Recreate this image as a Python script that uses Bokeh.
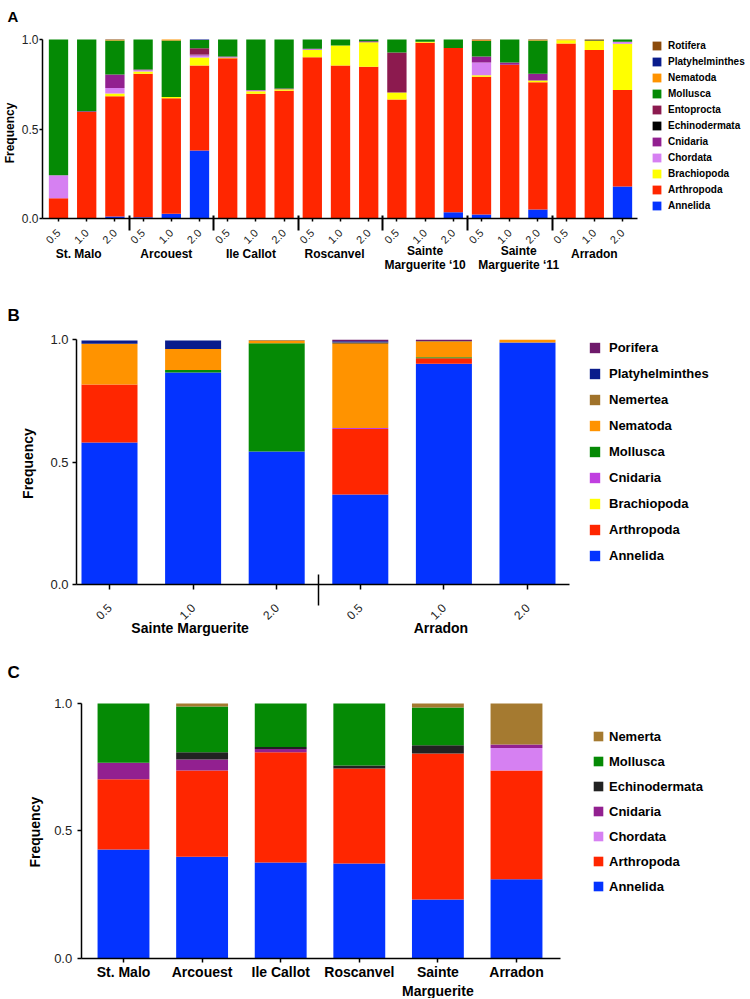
import math
from bokeh.plotting import figure
from bokeh.models import (ColumnDataSource, FixedTicker, Legend, LegendItem, Label,
                          NumeralTickFormatter, Range1d, LinearAxis)
from bokeh.layouts import column
from bokeh.embed import file_html
from bokeh.resources import INLINE

FONT = "Liberation Sans"

# ---------------- Panel A data ----------------
a_sites = ["St. Malo", "Arcouest", "Ile Callot", "Roscanvel",
           "Sainte\nMarguerite \u201810", "Sainte\nMarguerite \u201811", "Arradon"]
a_depths = ["0.5", "1.0", "2.0"]
a_phyla = ["Annelida", "Arthropoda", "Brachiopoda", "Chordata", "Cnidaria", "Echinodermata",
           "Entoprocta", "Mollusca", "Nematoda", "Platyhelminthes", "Rotifera"]
a_colors = ["#0433FF", "#FF2600", "#FFFF00", "#D680F2", "#922090", "#000000",
            "#8C1A4F", "#058A05", "#FF9300", "#0A1C8C", "#8B4A0B"]
a_annelida = [0, 0, 0.013, 0.009, 0.028, 0.381, 0, 0, 0, 0, 0, 0, 0, 0, 0.037, 0.024, 0, 0.052, 0, 0.004, 0.180]
a_arthropoda = [0.115, 0.595, 0.671, 0.800, 0.645, 0.474, 0.895, 0.697, 0.714, 0.901, 0.855, 0.848,
                0.665, 0.982, 0.916, 0.768, 0.859, 0.710, 0.978, 0.938, 0.539]
a_brachiopoda = [0, 0, 0.015, 0.013, 0.006, 0.045, 0.003, 0.015, 0.009, 0.041, 0.112, 0.137,
                 0.040, 0.005, 0, 0.008, 0, 0.009, 0.018, 0.052, 0.257]
a_chordata = [0.128, 0, 0.031, 0.007, 0, 0.011, 0.003, 0.003, 0, 0.003, 0, 0,
              0, 0, 0, 0.072, 0, 0, 0, 0, 0.011]
a_cnidaria = [0, 0.005, 0.075, 0.004, 0, 0.005, 0.004, 0.003, 0.004, 0.003, 0, 0.005,
              0, 0, 0, 0.033, 0.013, 0.038, 0, 0, 0]
a_echinodermata = [0, 0, 0, 0, 0, 0, 0, 0, 0, 0, 0, 0, 0, 0, 0, 0, 0, 0, 0, 0.003, 0]
a_entoprocta = [0, 0, 0, 0, 0, 0.035, 0, 0, 0, 0, 0, 0, 0.223, 0, 0, 0, 0, 0, 0, 0, 0]
a_mollusca = [0.757, 0.400, 0.189, 0.167, 0.316, 0.046, 0.095, 0.282, 0.273, 0.052, 0.033, 0.010,
              0.072, 0.013, 0.047, 0.087, 0.128, 0.185, 0, 0, 0.013]
a_nematoda = [0, 0, 0.003, 0, 0.005, 0, 0, 0, 0, 0, 0, 0, 0, 0, 0, 0.004, 0, 0.003, 0.004, 0, 0]
a_platyhelminthes = [0, 0, 0, 0, 0, 0.003, 0, 0, 0, 0, 0, 0, 0, 0, 0, 0, 0, 0, 0, 0, 0]
a_rotifera = [0, 0, 0.003, 0, 0, 0, 0, 0, 0, 0, 0, 0, 0, 0, 0, 0.004, 0, 0.003, 0, 0.003, 0]

# ---------------- Panel B data ----------------
b_sites = ["Sainte Marguerite", "Arradon"]
b_depths = ["0.5", "1.0", "2.0"]
b_phyla = ["Annelida", "Arthropoda", "Brachiopoda", "Cnidaria", "Mollusca", "Nematoda",
           "Nemertea", "Platyhelminthes", "Porifera"]
b_colors = ["#0433FF", "#FF2600", "#FFFF00", "#C03FE0", "#058A05", "#FF9300",
            "#A0722A", "#0A1C8C", "#6E1A6B"]
b_annelida = [0.580, 0.866, 0.544, 0.368, 0.902, 0.989]
b_arthropoda = [0.237, 0, 0, 0.267, 0.023, 0]
b_brachiopoda = [0, 0, 0, 0, 0, 0]
b_cnidaria = [0, 0, 0, 0.005, 0, 0]
b_mollusca = [0, 0.011, 0.442, 0, 0.004, 0]
b_nematoda = [0.167, 0.085, 0.009, 0.343, 0.063, 0.011]
b_nemertea = [0, 0, 0.003, 0.006, 0.003, 0]
b_platyhelminthes = [0.013, 0.035, 0, 0.005, 0, 0]
b_porifera = [0, 0, 0, 0.006, 0.005, 0]

# ---------------- Panel C data ----------------
c_sites = ["St. Malo", "Arcouest", "Ile Callot", "Roscanvel", "Sainte\nMarguerite", "Arradon"]
c_phyla = ["Annelida", "Arthropoda", "Chordata", "Cnidaria", "Echinodermata", "Mollusca", "Nemerta"]
c_colors = ["#0433FF", "#FF2600", "#D680F2", "#922090", "#222222", "#058A05", "#A57A30"]
c_annelida = [0.427, 0.398, 0.376, 0.372, 0.230, 0.310]
c_arthropoda = [0.276, 0.339, 0.433, 0.373, 0.574, 0.427]
c_chordata = [0, 0, 0, 0, 0, 0.088]
c_cnidaria = [0.064, 0.043, 0.012, 0, 0, 0.014]
c_echinodermata = [0, 0.029, 0.008, 0.012, 0.032, 0]
c_mollusca = [0.233, 0.179, 0.171, 0.243, 0.148, 0]
c_nemerta = [0, 0.012, 0, 0, 0.016, 0.161]

W = 748

# horizontal nudges (px) of the panel-A site captions, as placed in the original figure
A_CAPTION_NUDGE = [-8, -5, -5, -6, 0, 9, 0]


class Panel:
    """A figure whose frame fills the whole canvas; px helpers map canvas pixels to data."""

    def __init__(self, height, x0px, ux, y0px, uy):
        self.h, self.x0px, self.ux, self.y0px, self.uy = height, x0px, ux, y0px, uy
        xr = (-x0px / ux, (W - x0px) / ux)
        yr = (-(height - y0px) / uy, y0px / uy)
        self.p = figure(width=W, height=height, x_range=Range1d(*xr), y_range=Range1d(*yr),
                        output_backend="svg", toolbar_location=None,
                        x_axis_location=None, y_axis_location=None,
                        min_border=0, min_border_left=0, min_border_right=0,
                        min_border_top=0, min_border_bottom=0)
        p = self.p
        p.xgrid.visible = False
        p.ygrid.visible = False
        p.outline_line_color = None
        p.background_fill_color = "white"

    def dx(self, px):
        return (px - self.x0px) / self.ux

    def dy(self, py):
        return (self.y0px - py) / self.uy

    def label(self, px, py, text, size, bold=True, align="center", baseline="middle", angle=0.0):
        self.p.add_layout(Label(x=self.dx(px), y=self.dy(py), text=text, angle=angle,
                                text_align=align, text_baseline=baseline, text_font=FONT,
                                text_font_style="bold" if bold else "normal",
                                text_font_size=size, text_color="black"))


def style_axis(ax):
    ax.axis_line_color = "black"
    ax.axis_line_width = 1.5
    ax.major_tick_line_color = "black"
    ax.major_tick_line_width = 1.5
    ax.major_tick_in = 0
    ax.minor_tick_line_color = None
    ax.major_label_text_font = FONT
    ax.major_label_text_color = "#222222"


def add_y_axis(pn, x_px, size, tick_out, standoff):
    ax = LinearAxis(fixed_location=pn.dx(x_px), bounds=(0, 1.0),
                    ticker=FixedTicker(ticks=[0, 0.5, 1.0]),
                    formatter=NumeralTickFormatter(format="0.0"))
    style_axis(ax)
    ax.major_label_text_font_size = size
    ax.major_tick_out = tick_out
    ax.major_label_standoff = standoff
    pn.p.add_layout(ax, "left")


def add_legend(pn, renderers, names, left_px, top_px, gsize, lheight, spacing, fsize, standoff):
    n = len(names)
    height = n * lheight + (n - 1) * spacing
    items = [LegendItem(label=nm, renderers=[r]) for nm, r in zip(names, renderers)][::-1]
    leg = Legend(items=items, location=(left_px, pn.h - top_px - height), orientation="vertical",
                 glyph_width=gsize, glyph_height=gsize, label_height=lheight,
                 label_width=10, spacing=spacing, padding=0, margin=0,
                 border_line_color=None, background_fill_alpha=0,
                 label_text_font=FONT, label_text_font_style="bold",
                 label_text_font_size=fsize, label_standoff=standoff,
                 label_text_color="black")
    pn.p.add_layout(leg)


# ================= Panel A =================
a_vals = [a_annelida, a_arthropoda, a_brachiopoda, a_chordata, a_cnidaria, a_echinodermata,
          a_entoprocta, a_mollusca, a_nematoda, a_platyhelminthes, a_rotifera]
nA = len(a_annelida)
nd = len(a_depths)
A = Panel(272, 58, 28.2, 218.3, 179.3)
srcA = ColumnDataSource(dict(x=list(range(nA)), **{k: v for k, v in zip(a_phyla, a_vals)}))
rA = A.p.vbar_stack(a_phyla, x="x", width=0.685, source=srcA, fill_color=a_colors, line_color=None)
axA = LinearAxis(fixed_location=0, bounds=(A.dx(42), A.dx(636.7)),
                 ticker=FixedTicker(ticks=list(range(nA)),
                                    minor_ticks=[nd * k - 0.5 for k in range(1, len(a_sites))]))
style_axis(axA)
axA.major_label_overrides = {i: a_depths[i % nd] for i in range(nA)}
axA.major_label_orientation = math.pi / 4
axA.major_label_text_font_size = "11px"
axA.major_tick_out = 3
axA.major_label_standoff = 0
axA.minor_tick_line_color = "black"
axA.minor_tick_line_width = 2
axA.minor_tick_in = 3
axA.minor_tick_out = 12
A.p.add_layout(axA, "below")
add_y_axis(A, 42, "12px", 3, 1)
for k, s in enumerate(a_sites):
    lines = s.split("\n")
    xc = A.x0px + (nd * k + (nd - 1) / 2) * A.ux + A_CAPTION_NUDGE[k]
    ys = [253] if len(lines) == 1 else [250, 264]
    for t, yy in zip(lines, ys):
        A.label(xc, yy, t, "12px")
A.label(9, 132.5, "Frequency", "12px", angle=math.pi / 2)
A.label(7, 16, "A", "15px", align="left", baseline="alphabetic")
add_legend(A, rA, a_phyla, 651, 39.7, 11, 12, 4, "10px", 6)

# ================= Panel B =================
b_vals = [b_annelida, b_arthropoda, b_brachiopoda, b_cnidaria, b_mollusca, b_nematoda,
          b_nemertea, b_platyhelminthes, b_porifera]
nB = len(b_annelida)
nbd = len(b_depths)
B = Panel(368, 109, 83.6, 312, 244.7)
srcB = ColumnDataSource(dict(x=list(range(nB)), **{k: v for k, v in zip(b_phyla, b_vals)}))
rB = B.p.vbar_stack(b_phyla, x="x", width=0.67, source=srcB, fill_color=b_colors, line_color=None)
axB = LinearAxis(fixed_location=0, bounds=(B.dx(76), B.dx(569)),
                 ticker=FixedTicker(ticks=list(range(nB)),
                                    minor_ticks=[nbd * k - 0.5 for k in range(1, len(b_sites))]))
style_axis(axB)
axB.major_label_overrides = {i: b_depths[i % nbd] for i in range(nB)}
axB.major_label_orientation = math.pi / 4
axB.major_label_text_font_size = "12px"
axB.major_tick_out = 5
axB.major_label_standoff = 0
axB.minor_tick_line_color = "black"
axB.minor_tick_line_width = 1.5
axB.minor_tick_in = 10
axB.minor_tick_out = 21
B.p.add_layout(axB, "below")
add_y_axis(B, 76, "13px", 4, 4)
for k, s in enumerate(b_sites):
    B.label(B.x0px + (nbd * k + (nbd - 1) / 2) * B.ux - 3, 355, s, "14px")
B.label(27, 191, "Frequency", "14px", angle=math.pi / 2)
B.label(7, 43, "B", "17px", align="left", baseline="alphabetic")
add_legend(B, rB, b_phyla, 588, 67.5, 13, 15, 11, "13px", 8)

# ================= Panel C =================
c_vals = [c_annelida, c_arthropoda, c_chordata, c_cnidaria, c_echinodermata, c_mollusca, c_nemerta]
nC = len(c_annelida)
C = Panel(358, 123, 78.6, 317.7, 254.7)
srcC = ColumnDataSource(dict(x=list(range(nC)), **{k: v for k, v in zip(c_phyla, c_vals)}))
rC = C.p.vbar_stack(c_phyla, x="x", width=0.66, source=srcC, fill_color=c_colors, line_color=None)
axC = LinearAxis(fixed_location=0, bounds=(C.dx(80.7), C.dx(560)),
                 ticker=FixedTicker(ticks=list(range(nC))))
style_axis(axC)
axC.major_label_overrides = {i: c_sites[i] for i in range(nC)}
axC.major_label_text_font_size = "14px"
axC.major_label_text_font_style = "bold"
axC.major_label_text_color = "black"
axC.major_tick_out = 4
axC.major_label_standoff = 2
C.p.add_layout(axC, "below")
add_y_axis(C, 80.7, "13px", 4, 5)
C.label(34, 191.7, "Frequency", "14px", angle=math.pi / 2)
C.label(7, 32, "C", "17px", align="left", baseline="alphabetic")
add_legend(C, rC, c_phyla, 592, 88.5, 12, 15, 10, "13px", 5)

layout = column(A.p, B.p, C.p, spacing=0)
open("out.html", "w").write(file_html(layout, INLINE))
